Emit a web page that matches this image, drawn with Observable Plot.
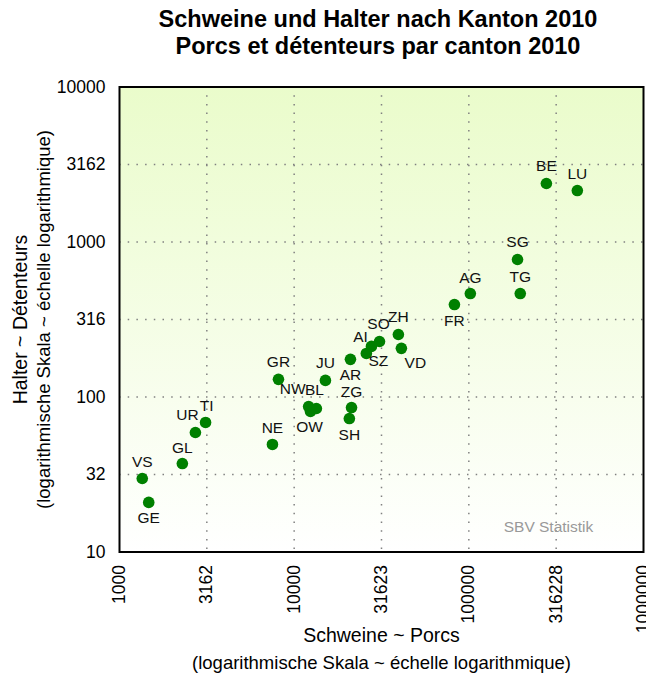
<!DOCTYPE html>
<html>
<head>
<meta charset="utf-8">
<script src="https://cdn.jsdelivr.net/npm/d3@7"></script>
<script src="https://cdn.jsdelivr.net/npm/@observablehq/plot@0.6"></script>
<style>
  body { margin: 0; background: #fff; font-family: "Liberation Sans", Arial, sans-serif; }
  #title { width: 646px; height: 59px; box-sizing: border-box; padding-left: 110px; padding-top: 6px; text-align: center;
           font-weight: bold; font-size: 23.5px; line-height: 27px; color: #000; overflow: visible; white-space: nowrap; }
</style>
</head>
<body>
<div id="title">Schweine und Halter nach Kanton 2010<br>Porcs et détenteurs par canton 2010</div>
<div id="chart"></div>
<script>
const cantons = ["BE","LU","SG","TG","AG","FR","ZH","VD","SO","AI","SZ","AR","JU","GR","NW","BL","OW","ZG","SH","NE","TI","UR","GL","VS","GE"];
const schweine = [278000, 418000, 190000, 197000, 102000, 82700, 39500, 41100, 30800, 27700, 25900, 21000, 15100, 8130, 12100, 13400, 12400, 21300, 20700, 7510, 3110, 2720, 2290, 1350, 1470];
const halter = [2385, 2148, 771, 465, 465, 395, 253, 206, 228, 212, 191, 175, 128, 130, 86.8, 84.3, 80.6, 85.5, 72.6, 49.4, 68.5, 59.0, 37.2, 29.8, 20.9];

const xTickValues = [1000, 3162, 10000, 31623, 100000, 316228, 1000000];
const xTickLabels = ["1000", "3162", "10000", "31623", "100000", "316228", "1000000"];
const yTickValues = [10, 31.62, 100, 316.2, 1000, 3162, 10000];
const yTickLabels = ["10", "32", "100", "316", "1000", "3162", "10000"];

// label placement (pixel offsets of label centre from point centre)
const labelOffsets = {
  BE:[0,-17], LU:[0,-17], SG:[0,-17], TG:[0,-17], AG:[0,-16], FR:[0,17],
  ZH:[0,-17], VD:[14,15], SO:[-1,-17], AI:[-11,-9], SZ:[12,8], AR:[0,16],
  JU:[0,-17], GR:[0,-17], NW:[-16,-17], BL:[-2,-18], OW:[-1,16], ZG:[0,-16],
  SH:[0,16], NE:[0,-16], TI:[1,-16], UR:[-8,-17], GL:[0,-16], VS:[0,-16], GE:[0,16]
};

const data = cantons.map((c, i) => ({canton: c, schweine: schweine[i], halter: halter[i]}));
const xFmt = new Map(xTickValues.map((v, i) => [v, xTickLabels[i]]));
const yFmt = new Map(yTickValues.map((v, i) => [v, yTickLabels[i]]));

const grid = {stroke: "#808080", strokeOpacity: 1, strokeWidth: 1.5, strokeDasharray: "1.5,7.2"};

const labelMarks = data.map(d => Plot.text([d], {
  x: "schweine", y: "halter", text: "canton",
  dx: labelOffsets[d.canton][0], dy: labelOffsets[d.canton][1],
  fontSize: 15.5, fill: "#111"
}));

const chart = Plot.plot({
  width: 646,
  height: 616,
  marginLeft: 119,
  marginRight: 3,
  marginTop: 27.5,
  marginBottom: 123.5,
  style: {fontFamily: "'Liberation Sans', Arial, sans-serif", background: "transparent", color: "#000", overflow: "visible"},
  x: {type: "log", domain: [1000, 1000000]},
  y: {type: "log", domain: [10, 10000]},
  marks: [
    Plot.frame({fill: "url(#bggrad)", stroke: null}),
    Plot.gridX(xTickValues.slice(1, -1), grid),
    Plot.gridY(yTickValues.slice(1, -1), grid),
    Plot.axisX({ticks: xTickValues, tickFormat: d => xFmt.get(d), tickRotate: -90, tickSize: 0, tickPadding: 13, fontSize: 17.5, label: null}),
    Plot.axisY({ticks: yTickValues, tickFormat: d => yFmt.get(d), tickSize: 0, tickPadding: 14, fontSize: 17.5, label: null}),
    Plot.frame({stroke: "#000", strokeWidth: 2}),
    Plot.dot(data, {x: "schweine", y: "halter", r: 5.8, fill: "#008000", stroke: null}),
    ...labelMarks,
    Plot.text(["Halter ~ Détenteurs"], {frameAnchor: "left", textAnchor: "middle", lineAnchor: "middle", rotate: -90, dx: -99, fontSize: 19.5, fill: "#000"}),
    Plot.text(["(logarithmische Skala ~ échelle logarithmique)"], {frameAnchor: "left", textAnchor: "middle", lineAnchor: "middle", rotate: -90, dx: -75, fontSize: 18.5, fill: "#000"}),
    Plot.text(["Schweine ~ Porcs"], {frameAnchor: "bottom", textAnchor: "middle", lineAnchor: "middle", dy: 83.5, fontSize: 19.5, fill: "#000"}),
    Plot.text(["(logarithmische Skala ~ échelle logarithmique)"], {frameAnchor: "bottom", textAnchor: "middle", lineAnchor: "middle", dy: 111.5, fontSize: 18.5, fill: "#000"}),
    Plot.text(["SBV Statistik"], {frameAnchor: "bottom-right", textAnchor: "middle", lineAnchor: "middle", dx: -95, dy: -25, fontSize: 15.5, fill: "#999"})
  ]
});

const ns = "http://www.w3.org/2000/svg";
const defs = document.createElementNS(ns, "defs");
const lg = document.createElementNS(ns, "linearGradient");
lg.setAttribute("id", "bggrad");
lg.setAttribute("x1", "0"); lg.setAttribute("y1", "0");
lg.setAttribute("x2", "0"); lg.setAttribute("y2", "1");
[["0%", "#eafccb"], ["100%", "#ffffff"]].forEach(([o, c]) => {
  const s = document.createElementNS(ns, "stop");
  s.setAttribute("offset", o); s.setAttribute("stop-color", c);
  lg.appendChild(s);
});
defs.appendChild(lg);
chart.insertBefore(defs, chart.firstChild);
document.getElementById("chart").appendChild(chart);
</script>
</body>
</html>
